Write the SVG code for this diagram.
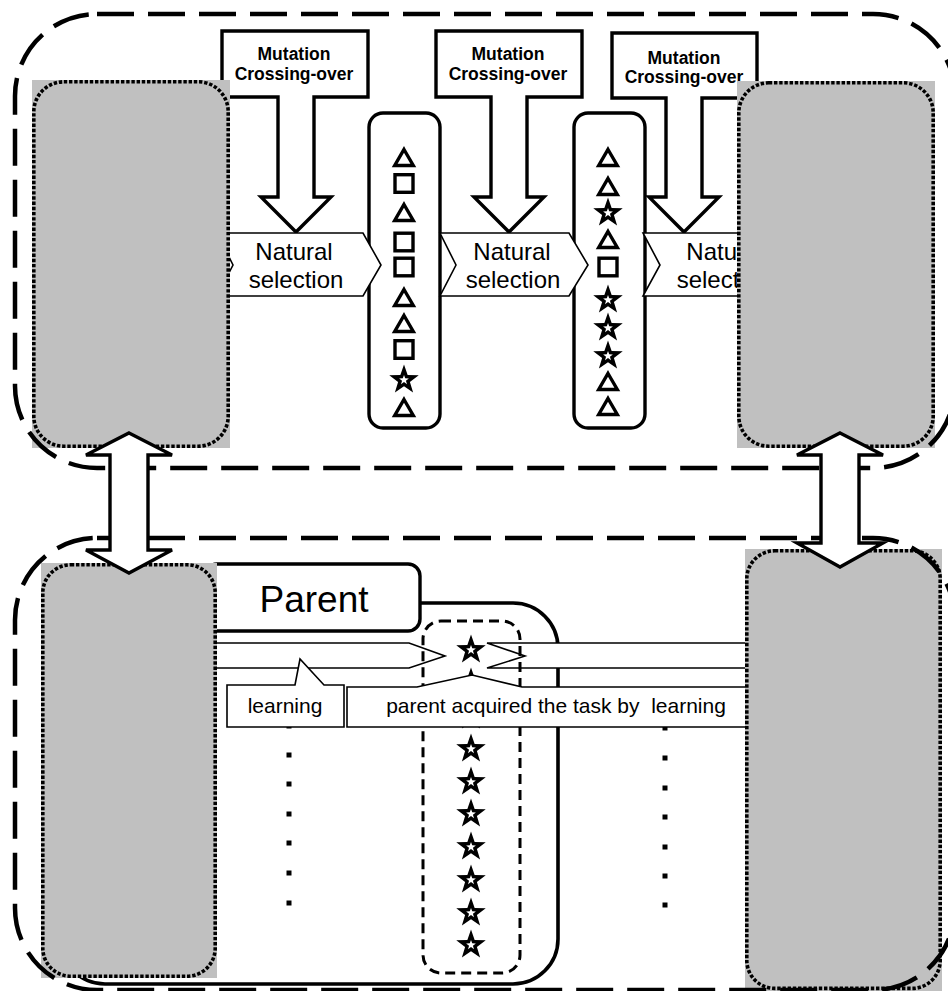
<svg xmlns="http://www.w3.org/2000/svg" xmlns:xlink="http://www.w3.org/1999/xlink" width="948" height="991" viewBox="0 0 948 991">
<style>
.cont{fill:none;stroke:#000;stroke-width:4.5;stroke-dasharray:37 14}
.gray{fill:#C0C0C0}
.dotted{fill:none;stroke:#000;stroke-width:3.6;stroke-dasharray:3.4 1.8}
.blk{fill:#fff;stroke:#000;stroke-width:3.4;stroke-linejoin:miter}
.thin{fill:#fff;stroke:#000;stroke-width:1.6}
.shape{fill:none;stroke:#000;stroke-width:3.4}
.mut{font-family:"Liberation Sans",Arial,sans-serif;font-weight:bold;font-size:17.5px;text-anchor:middle}
.ns{font-family:"Liberation Sans",Arial,sans-serif;font-size:24px;text-anchor:middle}
.lbl{font-family:"Liberation Sans",Arial,sans-serif;font-size:21px;text-anchor:middle;white-space:pre}
.big{font-family:"Liberation Sans",Arial,sans-serif;font-size:37px;text-anchor:middle}
</style>
<defs>
<polygon id="starp" points="0,-15.5 3.65,-5.01 14.74,-4.79 5.9,1.92 9.11,12.54 0,6.2 -9.11,12.54 -5.9,1.92 -14.74,-4.79 -3.65,-5.01"/>
<g id="star"><use href="#starp" fill="#000"/><use href="#starp" fill="#fff" transform="scale(0.33)"/></g>
<polygon id="tri" class="shape" points="0,-7.5 9.3,8.5 -9.3,8.5"/>
<rect id="sq" class="shape" x="-9" y="-8.8" width="18" height="17.6"/>
</defs>

<!-- ===== Top section ===== -->
<g id="capsule1">
<rect class="blk" x="369" y="113" width="71" height="315" rx="14"/>
<use href="#tri" x="404" y="157"/>
<use href="#sq" x="404" y="183.5"/>
<use href="#tri" x="404" y="212"/>
<use href="#sq" x="404" y="242"/>
<use href="#sq" x="404" y="267"/>
<use href="#tri" x="404" y="297"/>
<use href="#tri" x="404" y="323"/>
<use href="#sq" x="404" y="349.5"/>
<use href="#star" x="404" y="380"/>
<use href="#tri" x="404" y="407"/>
</g>
<g id="capsule2">
<rect class="blk" x="574" y="113" width="71" height="315" rx="14"/>
<use href="#tri" x="608" y="157"/>
<use href="#tri" x="608" y="186"/>
<use href="#star" x="608" y="213"/>
<use href="#tri" x="608" y="239"/>
<use href="#sq" x="608" y="267"/>
<use href="#star" x="608" y="300"/>
<use href="#star" x="608" y="328"/>
<use href="#star" x="608" y="356"/>
<use href="#tri" x="608" y="381"/>
<use href="#tri" x="608" y="406"/>
</g>

<g id="mutation1">
<path class="blk" d="M222,31 H368 V97 H314 V197 H331 L296,232 L261,197 H278 V97 H222 Z"/>
<text class="mut" x="294" y="60">Mutation</text>
<text class="mut" x="294" y="80">Crossing-over</text>
</g>
<g id="mutation2">
<path class="blk" d="M436,31 H582 V97 H527 V197 H544 L509,232 L474,197 H491 V97 H436 Z"/>
<text class="mut" x="508" y="60">Mutation</text>
<text class="mut" x="508" y="80">Crossing-over</text>
</g>
<g id="mutation3">
<path class="blk" d="M612,33 H757 V98 H702 V197 H719 L684,232 L649,197 H666 V98 H612 Z"/>
<text class="mut" x="684" y="64">Mutation</text>
<text class="mut" x="684" y="83">Crossing-over</text>
</g>

<g id="selection1">
<path class="thin" d="M217,233 H363 L381,265 L363,296 H217 L233,265 Z"/>
<text class="ns" x="294" y="260">Natural</text>
<text class="ns" x="296" y="288">selection</text>
</g>
<g id="selection2">
<path class="thin" d="M440,233 H569 L588,265 L569,296 H440 L456,265 Z"/>
<text class="ns" x="512" y="260">Natural</text>
<text class="ns" x="513" y="288">selection</text>
</g>
<g id="selection3">
<path class="thin" d="M643,233 H790 L808,265 L790,296 H643 L660,265 Z"/>
<text class="ns" x="725" y="260">Natural</text>
<text class="ns" x="724" y="288">selection</text>
</g>

<g id="pop-top-left">
<rect class="gray" x="32" y="80" width="198" height="368"/>
<rect class="dotted" x="33.8" y="81.8" width="194.4" height="364.4" rx="30"/>
</g>
<g id="pop-top-right">
<rect class="gray" x="737" y="81" width="198" height="367"/>
<rect class="dotted" x="738.8" y="82.8" width="194.4" height="363.4" rx="30"/>
</g>

<!-- ===== Bottom section ===== -->
<g id="parent-group">
<rect fill="#fff" stroke="#000" stroke-width="3.6" x="60" y="603" width="498" height="381" rx="45"/>
</g>
<g id="parent-tab">
<rect class="blk" x="205" y="564" width="215" height="67" rx="12" stroke-width="3"/>
<text class="big" x="314" y="612">Parent</text>
</g>

<g id="learning-arrows">
<path class="thin" d="M210,643 H409 L445,656 L409,668 H210 Z"/>
<path class="thin" d="M487,643 H760 V668 H487 L525,656 Z"/>
</g>

<g id="parent-column">
<rect fill="none" stroke="#000" stroke-width="3" stroke-dasharray="10 6" x="423" y="621" width="97" height="352" rx="18"/>
<use href="#star" x="471" y="650"/>
<use href="#star" x="471" y="683"/>
<use href="#star" x="471" y="716"/>
<use href="#star" x="471" y="749"/>
<use href="#star" x="471" y="782"/>
<use href="#star" x="471" y="814"/>
<use href="#star" x="471" y="847"/>
<use href="#star" x="471" y="880"/>
<use href="#star" x="471" y="913"/>
<use href="#star" x="471" y="945"/>
</g>

<g id="dots" fill="#000">
<rect x="286.5" y="723.5" width="5" height="5"/>
<rect x="286.5" y="752.5" width="5" height="5"/>
<rect x="286.5" y="781.5" width="5" height="5"/>
<rect x="286.5" y="811.5" width="5" height="5"/>
<rect x="286.5" y="840.5" width="5" height="5"/>
<rect x="286.5" y="870.5" width="5" height="5"/>
<rect x="286.5" y="900.5" width="5" height="5"/>
<rect x="662.5" y="725.5" width="5" height="5"/>
<rect x="662.5" y="755.5" width="5" height="5"/>
<rect x="662.5" y="785.5" width="5" height="5"/>
<rect x="662.5" y="814.5" width="5" height="5"/>
<rect x="662.5" y="844.5" width="5" height="5"/>
<rect x="662.5" y="873.5" width="5" height="5"/>
<rect x="662.5" y="902.5" width="5" height="5"/>
</g>

<g id="callout-learning">
<path class="thin" d="M227,685 H295 L300,659 L324,685 H344 V727 H227 Z"/>
<text class="lbl" x="285" y="713">learning</text>
</g>
<g id="callout-acquired">
<path class="thin" d="M347,687 H417 L472,675 L522,687 H760 V727 H347 Z"/>
<text class="lbl" x="556" y="713">parent acquired the task by  learning</text>
</g>

<g id="pop-bottom-left">
<rect class="gray" x="41" y="563" width="176" height="415"/>
<rect class="dotted" x="42.8" y="564.8" width="172.4" height="411.4" rx="28"/>
</g>
<g id="pop-bottom-right">
<rect class="gray" x="745" y="549" width="197" height="442"/>
<rect class="dotted" x="746.8" y="550.8" width="193.4" height="437.6" rx="28"/>
</g>

<!-- ===== Containers ===== -->
<g id="evolution-container">
<rect class="cont" x="15" y="14" width="940" height="454" rx="82"/>
</g>
<g id="learning-container">
<rect class="cont" x="15" y="538" width="940" height="452" rx="82"/>
</g>

<!-- ===== Connectors ===== -->
<g id="connectors">
<path class="blk" stroke-width="3.2" d="M129,433 L172,455 H148 V550 H172 L129,573 L86,550 H110 V455 H86 Z"/>
<path class="blk" stroke-width="3.2" d="M840,433 L883,455 H859 V543 H883 L840,567 L797,543 H821 V455 H797 Z"/>
</g>
</svg>
